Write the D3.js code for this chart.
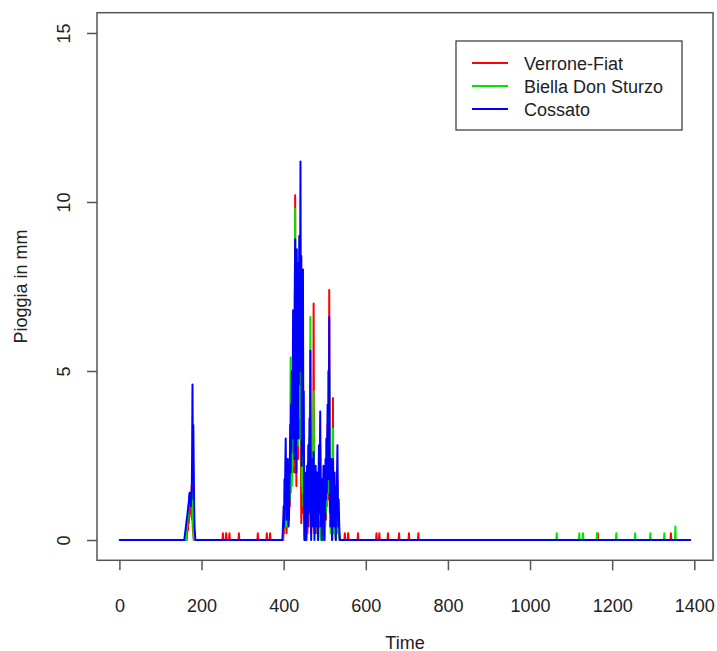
<!DOCTYPE html>
<html>
<head>
<meta charset="utf-8">
<script src="https://cdnjs.cloudflare.com/ajax/libs/d3/7.8.5/d3.min.js"></script>
<style>
  body { margin: 0; background: #fff; }
  text { font-family: "Liberation Sans", Arial, Helvetica, sans-serif; fill: #222; }
</style>
</head>
<body>
<svg id="chart"></svg>
<script>
// hourly rain, Time = 1..1390
const timeEnd = 1390;
const seriesNames = ["Verrone-Fiat", "Biella Don Sturzo", "Cossato"];
const seriesColors = ["#ff0000", "#00e400", "#0000ff"];
const xTicks = [0, 200, 400, 600, 800, 1000, 1200, 1400];
const yTicks = [0, 5, 10, 15];

// first small event, values from t = 158
const peakStart = 158;
const verronePeak = [0, 0, 0, 0, 0, 0, 0, 0.2, 0.4, 0.3, 0.6, 0.5, 0.8, 0.7, 1.0, 0.8, 1.2, 0.9, 1.6, 0.6, 0.6, 0.3, 0.2, 0, 0, 0];
const biellaPeak = [0, 0, 0, 0, 0, 0, 0.3, 0.4, 0.6, 0.7, 0.9, 1.1, 1.2, 1.3, 1.4, 1.3, 1.4, 1.2, 1.2, 1.4, 0.8, 0.6, 0.3, 0.1, 0, 0];
const cossatoPeak = [0, 0.1, 0.2, 0.3, 0.4, 0.5, 0.6, 0.7, 0.8, 0.9, 1.0, 1.1, 1.3, 1.4, 1.2, 1.4, 1.0, 1.4, 1.2, 2.4, 4.6, 1.8, 3.4, 2.2, 1.0, 0.4, 0.2, 0];

// main event, values from t = 398 to 537
const clusterStart = 398;
const verroneCluster = [
  0, 0, 0.4, 0.2, 0.8, 0.4, 1.0, 1.6, 0.6, 0.2,
  0.6, 1.0, 0.4, 0.8, 1.2, 0.6, 1.6, 1.0, 2.4, 1.4,
  3.0, 2.0, 3.4, 2.0, 3.0, 4.6, 2.2, 4.0, 2.0, 5.0,
  10.2, 2.0, 4.6, 1.6, 6.0, 3.2, 5.4, 2.4, 6.6, 3.0,
  6.4, 3.6, 5.6, 8.4, 2.4, 0.5, 1.2, 3.4, 1.0, 3.6,
  0.8, 1.6, 0.2, 0, 0.8, 0.2, 0.6, 0, 0.4, 1.2,
  0.2, 1.0, 1.6, 0.4, 1.2, 2.0, 0.8, 3.6, 1.4, 0.2,
  1.0, 2.0, 0.8, 2.6, 1.4, 7.0, 1.8, 0.2, 1.0, 0.4,
  1.4, 0.2, 0.8, 1.6, 0.4, 1.0, 0, 1.2, 2.0, 0.4,
  1.2, 2.8, 1.0, 0.2, 0.8, 0, 1.2, 0.4, 1.0, 1.6,
  0.4, 0, 1.0, 0.4, 1.8, 0.6, 2.2, 1.0, 2.0, 3.4,
  1.2, 4.0, 1.6, 7.4, 1.6, 0.4, 1.2, 0.2, 1.8, 0.6,
  0, 1.2, 4.2, 0.6, 1.0, 0.2, 1.6, 0.4, 0.8, 0,
  1.2, 0.4, 1.4, 1.8, 0.6, 0.2, 0.8, 0.2, 0, 0
];
const biellaCluster = [
  0, 0.2, 0.5, 0.8, 0.4, 1.0, 1.4, 0.6, 1.2, 0.4,
  0.8, 1.4, 0.6, 1.0, 1.6, 0.8, 2.0, 1.2, 3.0, 5.4,
  2.0, 3.6, 1.6, 3.0, 2.2, 4.0, 2.4, 4.6, 3.0, 6.0,
  9.8, 3.6, 5.0, 2.6, 6.4, 3.4, 5.8, 2.8, 7.0, 3.6,
  6.0, 4.0, 5.2, 7.6, 3.0, 5.0, 1.6, 3.8, 1.4, 4.2,
  1.0, 2.0, 0.4, 0, 1.0, 0.4, 0.8, 0, 1.2, 0.6,
  1.8, 0.8, 2.0, 1.2, 3.0, 1.6, 4.0, 6.6, 1.8, 0.6,
  1.6, 0.8, 2.0, 1.0, 2.4, 4.4, 1.4, 0.4, 1.0, 0.4,
  1.6, 0.6, 1.2, 0.4, 1.0, 0, 1.4, 0.8, 2.0, 0.6,
  1.4, 2.4, 1.0, 0, 0.8, 0.4, 1.2, 0, 1.0, 1.6,
  0.4, 0, 1.2, 0.4, 1.6, 0.8, 2.2, 1.0, 2.0, 3.0,
  1.4, 3.6, 1.6, 5.0, 1.8, 0.6, 1.2, 0.2, 1.8, 0.8,
  0, 1.2, 3.3, 0.6, 1.0, 0.2, 1.4, 0.4, 0.8, 0,
  1.0, 0.4, 1.2, 1.6, 0.6, 0.2, 0.6, 0.2, 0, 0
];
const cossatoCluster = [
  0.3, 0.6, 1.0, 0.4, 1.8, 1.2, 2.2, 3.0, 1.5, 0.6,
  1.2, 1.8, 2.4, 1.2, 0.4, 0.8, 1.4, 2.2, 3.4, 2.0,
  4.0, 2.6, 5.0, 3.0, 4.2, 6.8, 3.2, 5.6, 2.4, 7.0,
  8.9, 4.0, 6.2, 2.0, 8.6, 5.0, 7.4, 3.0, 8.2, 4.6,
  9.0, 6.0, 7.6, 11.2, 5.0, 8.4, 2.2, 6.0, 3.0, 8.0,
  2.5, 4.4, 1.0, 0, 2.0, 0.6, 1.4, 0, 0.8, 2.2,
  0.4, 1.6, 2.8, 0.8, 2.0, 3.6, 1.4, 5.6, 2.0, 0,
  1.2, 2.4, 0.6, 1.8, 0.4, 2.6, 1.2, 0, 1.6, 0.8,
  2.2, 0.4, 1.0, 2.0, 0.6, 1.4, 0, 1.8, 2.8, 0.8,
  2.0, 3.8, 1.6, 0.4, 1.2, 0, 1.8, 0.6, 1.4, 2.2,
  0.8, 0, 1.6, 0.6, 2.4, 1.2, 3.0, 1.4, 2.6, 4.0,
  1.8, 5.0, 2.0, 6.6, 2.2, 0.8, 1.8, 0.4, 2.4, 1.0,
  0, 1.6, 2.4, 0.8, 1.4, 0.4, 2.0, 0.6, 1.2, 0,
  1.6, 0.8, 2.0, 2.8, 1.0, 0.4, 1.2, 0.6, 0.2, 0
];

// isolated small readings [time, mm]
const verroneTicks = [
  [252, 0.2], [260, 0.2], [268, 0.2], [291, 0.2], [337, 0.2], [359, 0.2], [367, 0.2],
  [549, 0.2], [557, 0.2], [581, 0.2], [626, 0.2], [633, 0.2], [654, 0.2], [681, 0.2],
  [705, 0.2], [728, 0.2], [1165, 0.2], [1343, 0.2]
];
const biellaTicks = [
  [1065, 0.2], [1120, 0.2], [1129, 0.2], [1163, 0.2], [1210, 0.2], [1256, 0.2],
  [1293, 0.2], [1327, 0.2], [1354, 0.4]
];
const cossatoTicks = [];

function buildSeries(peak, cluster, ticks) {
  const vals = new Array(timeEnd).fill(0);
  peak.forEach((v, i) => { vals[peakStart + i - 1] = v; });
  cluster.forEach((v, i) => { vals[clusterStart + i - 1] = v; });
  ticks.forEach(d => { vals[d[0] - 1] = d[1]; });
  return vals.map((v, i) => ({ t: i + 1, v: v }));
}

const series = [
  buildSeries(verronePeak, verroneCluster, verroneTicks),
  buildSeries(biellaPeak, biellaCluster, biellaTicks),
  buildSeries(cossatoPeak, cossatoCluster, cossatoTicks)
];

const width = 717, height = 651;
const box = { left: 97, right: 713, top: 12.7, bottom: 560.3 };

const svg = d3.select("#chart")
  .attr("width", width)
  .attr("height", height);

// R style 4% padding around 1..1390 and 0..15
const x = d3.scaleLinear().domain([1 - 0.04 * 1389, 1390 + 0.04 * 1389]).range([box.left, box.right]);
const y = d3.scaleLinear().domain([-0.6, 15.6]).range([box.bottom, box.top]);

const line = d3.line()
  .x(d => x(d.t))
  .y(d => y(d.v));

svg.append("g")
  .selectAll("path")
  .data(series)
  .enter().append("path")
  .attr("d", line)
  .attr("fill", "none")
  .attr("stroke", (d, i) => seriesColors[i])
  .attr("stroke-width", 2)
  .attr("stroke-linejoin", "round")
  .attr("stroke-linecap", "round");

// frame
svg.append("rect")
  .attr("x", box.left)
  .attr("y", box.top)
  .attr("width", box.right - box.left)
  .attr("height", box.bottom - box.top)
  .attr("fill", "none")
  .attr("stroke", "#555")
  .attr("stroke-width", 1.5);

// axes
const xAxis = svg.append("g")
  .attr("transform", `translate(0,${box.bottom})`)
  .call(d3.axisBottom(x).tickValues(xTicks).tickFormat(d3.format("d")).tickSize(10).tickSizeOuter(0));
xAxis.select(".domain").remove();
xAxis.selectAll("line").attr("stroke", "#555").attr("stroke-width", 1.5);
xAxis.selectAll("text")
  .attr("y", 52)
  .attr("dy", null)
  .attr("font-size", "18px")
  .attr("fill", "#222");

const yAxis = svg.append("g")
  .attr("transform", `translate(${box.left},0)`)
  .call(d3.axisLeft(y).tickValues(yTicks).tickFormat(d3.format("d")).tickSize(10).tickSizeOuter(0));
yAxis.select(".domain").remove();
yAxis.selectAll("line").attr("stroke", "#555").attr("stroke-width", 1.5);
yAxis.selectAll("text")
  .attr("x", null)
  .attr("dy", null)
  .attr("text-anchor", "middle")
  .attr("transform", "translate(-27,0) rotate(-90)")
  .attr("font-size", "18px")
  .attr("fill", "#222");

svg.append("text")
  .attr("x", (box.left + box.right) / 2)
  .attr("y", 648.5)
  .attr("text-anchor", "middle")
  .attr("font-size", "18px")
  .text("Time");

svg.append("text")
  .attr("transform", `translate(27,${(box.top + box.bottom) / 2}) rotate(-90)`)
  .attr("text-anchor", "middle")
  .attr("font-size", "18px")
  .text("Pioggia in mm");

// legend
const legend = svg.append("g");
legend.append("rect")
  .attr("x", 456)
  .attr("y", 41)
  .attr("width", 226)
  .attr("height", 89)
  .attr("fill", "#fff")
  .attr("stroke", "#333")
  .attr("stroke-width", 1.2);

const rows = legend.selectAll(".row")
  .data(seriesNames)
  .enter().append("g")
  .attr("transform", (d, i) => `translate(0,${63 + i * 23})`);

rows.append("line")
  .attr("x1", 472).attr("x2", 508)
  .attr("y1", 0).attr("y2", 0)
  .attr("stroke", (d, i) => seriesColors[i])
  .attr("stroke-width", 2);

rows.append("text")
  .attr("x", 524)
  .attr("y", 6.5)
  .attr("font-size", "18px")
  .text(d => d);
</script>
</body>
</html>
